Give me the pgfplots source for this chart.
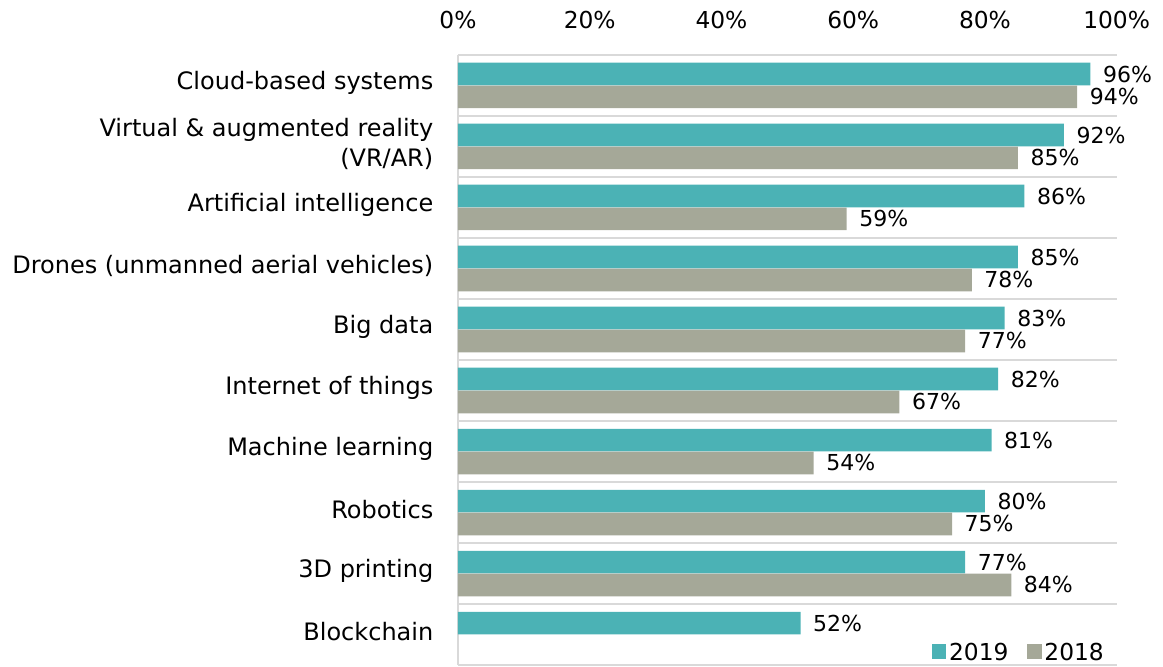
\documentclass[border=0pt]{standalone}
\usepackage{pgfplots}
\usepackage{pgfplotstable}
\pgfplotsset{compat=1.18}
\usepackage{fontspec}
\setmainfont{DejaVu Sans}

\definecolor{c2019}{RGB}{75,178,181}
\definecolor{c2018}{RGB}{165,168,152}
\definecolor{gridc}{RGB}{217,217,217}

% category index, share 2019, share 2018
\pgfplotstableread{
idx y2019 y2018
0 96 94
1 92 85
2 86 59
3 85 78
4 83 77
5 82 67
6 81 54
7 80 75
8 77 84
9 52 nan
}\shares

\begin{document}
\begin{tikzpicture}
\begin{axis}[
scale only axis,
width=494pt, height=457.5pt,
xbar, bar width=0.37,
xmin=0, xmax=100,
ymin=-0.5, ymax=9.5,
y dir=reverse,
axis line style={draw=none},
major tick length=0pt,
xtick={0,20,40,60,80,100},
xticklabels={0\%,20\%,40\%,60\%,80\%,100\%},
xticklabel pos=upper,
xticklabel style={yshift=16pt, font=\fontsize{17.5}{20}\selectfont},
ytick={0,1,2,3,4,5,6,7,8,9},
yticklabels={Cloud-based systems,{Virtual \& augmented reality\\(VR/AR)},Artificial intelligence,Drones (unmanned aerial vehicles),Big data,Internet of things,Machine learning,Robotics,3D printing,Blockchain},
yticklabel style={align=right, xshift=-15pt, yshift=2pt, font=\fontsize{18}{22.5}\selectfont},
extra y ticks={-0.5,0.5,1.5,2.5,3.5,4.5,5.5,6.5,7.5,8.5,9.5},
extra y tick labels={},
extra y tick style={ymajorgrids, major grid style={gridc, line width=1.5pt}},
extra x ticks={0},
extra x tick labels={},
extra x tick style={xmajorgrids, major grid style={gridc, line width=1.5pt}},
point meta=x,
nodes near coords={\pgfmathprintnumber{\pgfplotspointmeta}\%},
/pgf/number format/assume math mode=true,
every node near coord/.append style={anchor=west, xshift=6pt, font=\fontsize{16.5}{20}\selectfont},
legend style={at={(0.985,0)}, anchor=south east, draw=none, fill=none,
  legend columns=2, inner sep=0pt, font=\fontsize{17.5}{20}\selectfont,
  /tikz/every even column/.append style={column sep=12pt}},
legend image code/.code={\fill[#1] (0pt,-5pt) rectangle (11pt,6pt);},
]
\addplot[fill=c2019, draw=none, bar shift=8.6pt] table[x=y2019, y=idx] {\shares};
\addplot[fill=c2018, draw=none, bar shift=-8.6pt] table[x=y2018, y=idx] {\shares};
\legend{2019,2018}
\end{axis}
\pgfresetboundingbox
\useasboundingbox (-343.5pt,-1.5pt) rectangle (528.75pt,498.75pt);
\end{tikzpicture}
\end{document}
